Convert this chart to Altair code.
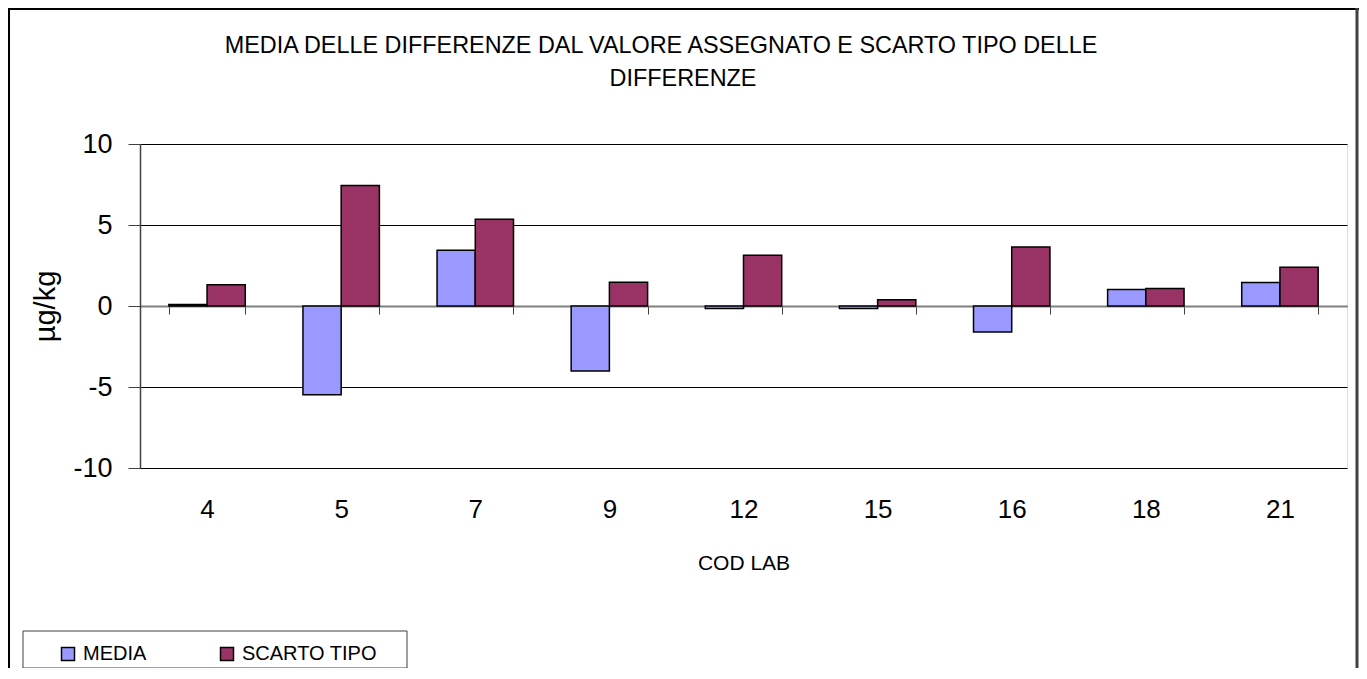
import altair as alt
import pandas as pd

labs = ["4", "5", "7", "9", "12", "15", "16", "18", "21"]
media = [0.1, -5.48, 3.44, -4.01, -0.16, -0.16, -1.6, 1.02, 1.45]
scarto = [1.31, 7.44, 5.36, 1.47, 3.13, 0.39, 3.64, 1.08, 2.39]
series = ["MEDIA", "SCARTO TIPO"]
colors = ["#9999FF", "#993366"]
title_lines = ["MEDIA DELLE DIFFERENZE DAL VALORE ASSEGNATO E SCARTO TIPO DELLE",
               "DIFFERENZE"]

rows = []
for i, lab in enumerate(labs):
    rows.append({"lab": lab, "serie": series[0], "val": media[i]})
    rows.append({"lab": lab, "serie": series[1], "val": scarto[i]})
df = pd.DataFrame(rows)

W, H = 1207, 324
PAD = {"left": 132, "top": 136, "right": 12, "bottom": 200}
FONT = "Liberation Sans"

bars = alt.Chart(df).mark_bar(stroke="black", strokeWidth=1.5).encode(
    x=alt.X("lab:N", sort=labs, title="COD LAB",
            scale=alt.Scale(paddingInner=0.43, paddingOuter=0.215),
            axis=alt.Axis(offset=-162, labelAngle=0, labelFontSize=26, labelFont=FONT,
                          labelPadding=182, labelColor="black",
                          tickBand="extent", tickSize=8, tickColor="#404040", tickWidth=1,
                          domainColor="#808080", domainWidth=2,
                          titleFont=FONT, titleFontSize=21, titleFontWeight="normal",
                          titleColor="black", titleY=257, titleBaseline="middle")),
    xOffset=alt.XOffset("serie:N", sort=series, scale=alt.Scale(paddingInner=0, paddingOuter=0)),
    y=alt.Y("val:Q", title="µg/kg",
            scale=alt.Scale(domain=[-10, 10], nice=False),
            axis=alt.Axis(values=[-10, -5, 0, 5, 10], labelExpr="'' + datum.value",
                          labelFontSize=27, labelFont=FONT,
                          labelColor="black", labelPadding=16, tickSize=12,
                          tickColor="#404040", domainColor="#404040", domainWidth=1.5,
                          gridColor="black", gridWidth=1,
                          titleFont=FONT, titleFontSize=29, titleFontWeight="normal",
                          titleColor="black", titleAngle=270, titleX=-95, titleY=162,
                          titleAlign="center", titleBaseline="middle")),
    color=alt.Color("serie:N", sort=series,
                    scale=alt.Scale(domain=series, range=colors),
                    legend=alt.Legend(title=None, orient="none", direction="horizontal",
                                      legendX=-82, legendY=500,
                                      symbolType="square", symbolSize=169,
                                      symbolStrokeColor="black", symbolStrokeWidth=1.5,
                                      symbolOpacity=1,
                                      labelFont=FONT, labelFontSize=20, labelColor="black",
                                      labelOffset=5, columnPadding=70, padding=0)),
)

one = alt.Data(values=[{"k": 1}])
border_left = alt.Chart(one).mark_rule(color="black", strokeWidth=2).encode(
    x=alt.value(-131), y=alt.value(-136), y2=alt.value(H + PAD["bottom"]))
border_top = alt.Chart(one).mark_rule(color="black", strokeWidth=2).encode(
    x=alt.value(-132), x2=alt.value(W + PAD["right"]), y=alt.value(-135))
border_right = alt.Chart(one).mark_rule(color="#404040", strokeWidth=3).encode(
    x=alt.value(W + 10), y=alt.value(-136), y2=alt.value(H + PAD["bottom"]))
legend_box = alt.Chart(one).mark_rect(fill="white", stroke="#404040", strokeWidth=1).encode(
    x=alt.value(-117), x2=alt.value(267), y=alt.value(487), y2=alt.value(524))

title1 = alt.Chart(one).mark_text(font=FONT, fontSize=23.4, color="black", align="center",
                                  baseline="alphabetic", text=title_lines[0]).encode(
    x=alt.value(521), y=alt.value(-91))
title2 = alt.Chart(one).mark_text(font=FONT, fontSize=23.4, color="black", align="center",
                                  baseline="alphabetic", text=title_lines[1]).encode(
    x=alt.value(543), y=alt.value(-58))

chart = alt.layer(legend_box, bars, border_left, border_top, border_right,
                  title1, title2).properties(
    width=W, height=H,
    autosize=alt.AutoSizeParams(type="none"),
    padding=PAD,
).configure_view(stroke="#808080", strokeWidth=2).configure(background="white")

chart.save("out.html", embed_options={"renderer": "svg", "actions": False})
